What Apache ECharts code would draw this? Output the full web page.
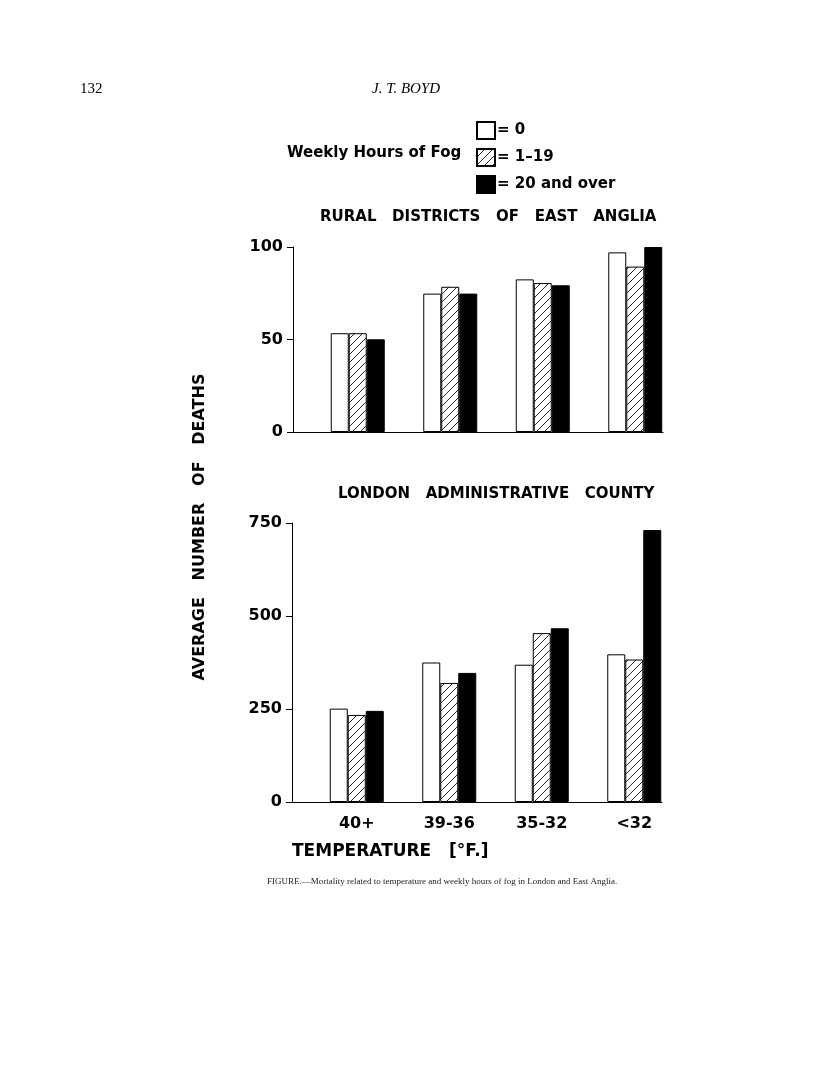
<!DOCTYPE html>
<html>
<head>
<meta charset="utf-8">
<script src="https://cdn.jsdelivr.net/npm/echarts@6/dist/echarts.min.js"></script>
<style>
  html, body { margin: 0; padding: 0; background: #fff; }
  #chart { width: 816px; height: 1086px; }
</style>
</head>
<body>
<div id="chart"></div>
<script>
// temperature groups
const categories = ['40+', '39-36', '35-32', '<32'];
const fogNames = ['0', '1–19', '20 and over'];

// rural districts of East Anglia
const ruralNone = [53.4, 74.8, 82.5, 97.1];
const ruralSome = [53.4, 78.5, 80.5, 89.4];
const ruralMany = [50.1, 74.8, 79.3, 100];
const ruralTicks = [0, 50, 100];

// London administrative county
const londonNone = [251, 375, 369, 397];
const londonSome = [234, 320, 454, 383];
const londonMany = [245, 347, 467, 731];
const londonTicks = [0, 250, 500, 750];

const font = "'DejaVu Sans', sans-serif";

// diagonal hatch pattern
function hatch() {
  const c = document.createElement('canvas');
  c.width = 8; c.height = 8;
  const g = c.getContext('2d');
  g.fillStyle = '#fff';
  g.fillRect(0, 0, 8, 8);
  g.strokeStyle = '#111';
  g.lineWidth = 0.9;
  g.beginPath();
  g.moveTo(-1, 9); g.lineTo(9, -1);
  g.moveTo(-1, 1); g.lineTo(1, -1);
  g.moveTo(7, 9); g.lineTo(9, 7);
  g.stroke();
  return c;
}
const fills = ['#fff', { image: hatch(), repeat: 'repeat' }, '#000'];

const chart = echarts.init(document.getElementById('chart'));

function bars(vals, idx, k) {
  return {
    name: fogNames[k],
    type: 'bar',
    xAxisIndex: idx,
    yAxisIndex: idx,
    barWidth: 18,
    barGap: '0%',
    data: vals.map((v, i) => [i, v]),
    itemStyle: { color: fills[k], borderColor: '#000', borderWidth: 1 },
    animation: false
  };
}

function yAxis(idx, ticks) {
  return {
    type: 'value',
    gridIndex: idx,
    min: ticks[0],
    max: ticks[ticks.length - 1],
    interval: ticks[1] - ticks[0],
    axisLine: { show: true, onZero: false, lineStyle: { color: '#000', width: 1 } },
    axisTick: { show: true, length: 6, lineStyle: { color: '#000' } },
    splitLine: { show: false },
    axisLabel: { color: '#000', fontFamily: font, fontSize: 16, fontWeight: 'bold', margin: 10,
      formatter: v => String(v) }
  };
}

function xAxis(idx, labels) {
  return {
    type: 'value',
    gridIndex: idx,
    min: -0.7,
    max: 3.3,
    axisLine: { show: true, onZero: false, lineStyle: { color: '#000', width: 1 } },
    axisTick: { show: false },
    splitLine: { show: false },
    axisLabel: {
      show: labels,
      customValues: [0, 1, 2, 3],
      formatter: v => categories[Math.round(v)],
      color: '#000', fontFamily: font, fontSize: 16, fontWeight: 'bold', margin: 14
    }
  };
}

chart.setOption({
  backgroundColor: '#fff',
  animation: false,
  grid: [
    { left: 293, width: 370, top: 247, height: 185 },
    { left: 292, width: 370, top: 523, height: 279 }
  ],
  xAxis: [xAxis(0, false), xAxis(1, true)],
  yAxis: [yAxis(0, ruralTicks), yAxis(1, londonTicks)],
  legend: {
    left: 476,
    top: 121,
    padding: 0,
    orient: 'vertical',
    itemWidth: 18,
    itemHeight: 17,
    itemGap: 8,
    icon: 'rect',
    data: fogNames,
    formatter: n => '= ' + n,
    textStyle: { color: '#000', fontFamily: font, fontSize: 15, fontWeight: 'bold', padding: [0, 0, 0, -3] }
  },
  graphic: [
    { type: 'text', left: 80, top: 82,
      style: { text: '132', font: "15px 'Liberation Serif', serif", fill: '#000' } },
    { type: 'text', left: 372, top: 82,
      style: { text: 'J. T. BOYD', font: "italic 15px 'Liberation Serif', serif", fill: '#000' } },
    { type: 'text', left: 287, top: 146,
      style: { text: 'Weekly Hours of Fog', font: "bold 15px " + font, fill: '#000' } },
    { type: 'text', left: 320, top: 210,
      style: { text: 'RURAL   DISTRICTS   OF   EAST   ANGLIA', font: "bold 15px " + font, fill: '#000' } },
    { type: 'text', left: 338, top: 487,
      style: { text: 'LONDON   ADMINISTRATIVE   COUNTY', font: "bold 15px " + font, fill: '#000' } },
    { type: 'text', x: 200, y: 527, rotation: Math.PI / 2,
      style: { text: 'AVERAGE   NUMBER   OF   DEATHS', font: "bold 16px " + font, fill: '#000',
        align: 'center', verticalAlign: 'middle' } },
    { type: 'text', left: 292, top: 843,
      style: { text: 'TEMPERATURE   [°F.]', font: "bold 17px " + font, fill: '#000' } },
    { type: 'text', left: 267, top: 877,
      style: { text: 'FIGURE.—Mortality related to temperature and weekly hours of fog in London and East Anglia.',
        font: "9px 'Liberation Serif', serif", fill: '#222' } }
  ],
  series: [
    bars(ruralNone, 0, 0), bars(ruralSome, 0, 1), bars(ruralMany, 0, 2),
    bars(londonNone, 1, 0), bars(londonSome, 1, 1), bars(londonMany, 1, 2)
  ]
});
</script>
</body>
</html>
